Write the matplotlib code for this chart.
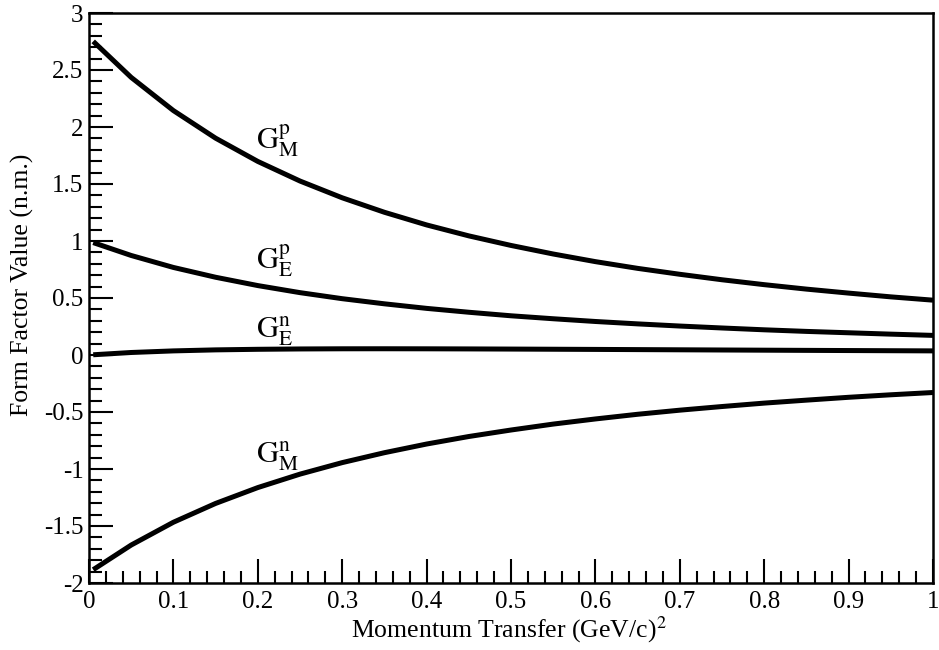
import matplotlib
matplotlib.use("Agg")
import matplotlib.pyplot as plt
from matplotlib.ticker import MultipleLocator

plt.rcParams['font.family'] = ['Liberation Serif', 'DejaVu Serif']
plt.rcParams['mathtext.fontset'] = 'stix'

q2 = [0.005, 0.05, 0.10, 0.15, 0.20, 0.25, 0.30, 0.35, 0.40, 0.45, 0.50,
      0.55, 0.60, 0.65, 0.70, 0.75, 0.80, 0.85, 0.90, 0.95, 1.00]
g_mp = [2.751, 2.435, 2.144, 1.902, 1.698, 1.526, 1.379, 1.252, 1.141, 1.045, 0.961,
        0.886, 0.819, 0.760, 0.708, 0.660, 0.617, 0.578, 0.543, 0.510, 0.481]
g_ep = [0.986, 0.873, 0.768, 0.682, 0.609, 0.547, 0.494, 0.449, 0.409, 0.375, 0.344,
        0.318, 0.294, 0.273, 0.254, 0.237, 0.221, 0.207, 0.195, 0.183, 0.172]
g_mn = [-1.883, -1.667, -1.467, -1.302, -1.163, -1.045, -0.944, -0.857, -0.781, -0.715, -0.658,
        -0.606, -0.561, -0.520, -0.484, -0.452, -0.422, -0.396, -0.371, -0.349, -0.329]
g_en = [0.002, 0.022, 0.036, 0.045, 0.050, 0.053, 0.0545, 0.0548, 0.0543, 0.0533, 0.052,
        0.0505, 0.049, 0.0473, 0.0456, 0.0439, 0.0422, 0.0406, 0.0391, 0.0376, 0.0361]

labels = [r'$\mathrm{G}_{\mathrm{M}}^{\mathrm{p}}$', r'$\mathrm{G}_{\mathrm{E}}^{\mathrm{p}}$',
          r'$\mathrm{G}_{\mathrm{E}}^{\mathrm{n}}$', r'$\mathrm{G}_{\mathrm{M}}^{\mathrm{n}}$']
label_x = [0.198, 0.198, 0.198, 0.198]
label_y = [1.816, 0.763, 0.158, -0.939]

xtick_vals = [0, 0.1, 0.2, 0.3, 0.4, 0.5, 0.6, 0.7, 0.8, 0.9, 1]
xtick_text = ['0', '0.1', '0.2', '0.3', '0.4', '0.5', '0.6', '0.7', '0.8', '0.9', '1']
ytick_vals = [-2, -1.5, -1, -0.5, 0, 0.5, 1, 1.5, 2, 2.5, 3]
ytick_text = ['-2', '-1.5', '-1', '-0.5', '0', '0.5', '1', '1.5', '2', '2.5', '3']

fig = plt.figure(figsize=(9.39, 6.5), dpi=100)
ax = fig.add_axes([89/939, 1-583/650, (933-89)/939, (583-13)/650])

for s in (g_mp, g_ep, g_en, g_mn):
    ax.plot(q2, s, color='black', lw=3.6, solid_capstyle='butt')

for t, x, y in zip(labels, label_x, label_y):
    ax.text(x, y, t, fontsize=22, ha='left', va='baseline')

ax.set_xlim(0, 1)
ax.set_ylim(-2, 3)
ax.xaxis.set_minor_locator(MultipleLocator(0.02))
ax.yaxis.set_minor_locator(MultipleLocator(0.1))
ax.set_xticks(xtick_vals)
ax.set_xticklabels(xtick_text)
ax.set_yticks(ytick_vals)
ax.set_yticklabels(ytick_text)
ax.tick_params(which='both', direction='in', top=False, right=False, width=1.5, labelsize=18)
ax.tick_params(which='major', length=17)
ax.tick_params(axis='x', which='major', pad=6)
ax.tick_params(axis='y', which='major', pad=4)
ax.tick_params(which='minor', length=9)
for sp in ax.spines.values():
    sp.set_linewidth(1.8)

fig.text(509/939, 1-637/650, r'Momentum Transfer (GeV/c)$^{2}$', fontsize=18.5,
         ha='center', va='baseline')
fig.text(22/939, 1-(155+415)/2/650, 'Form Factor Value (n.m.)', fontsize=18.5,
         ha='center', va='center', rotation=90)

fig.savefig('out.png', dpi=100)
